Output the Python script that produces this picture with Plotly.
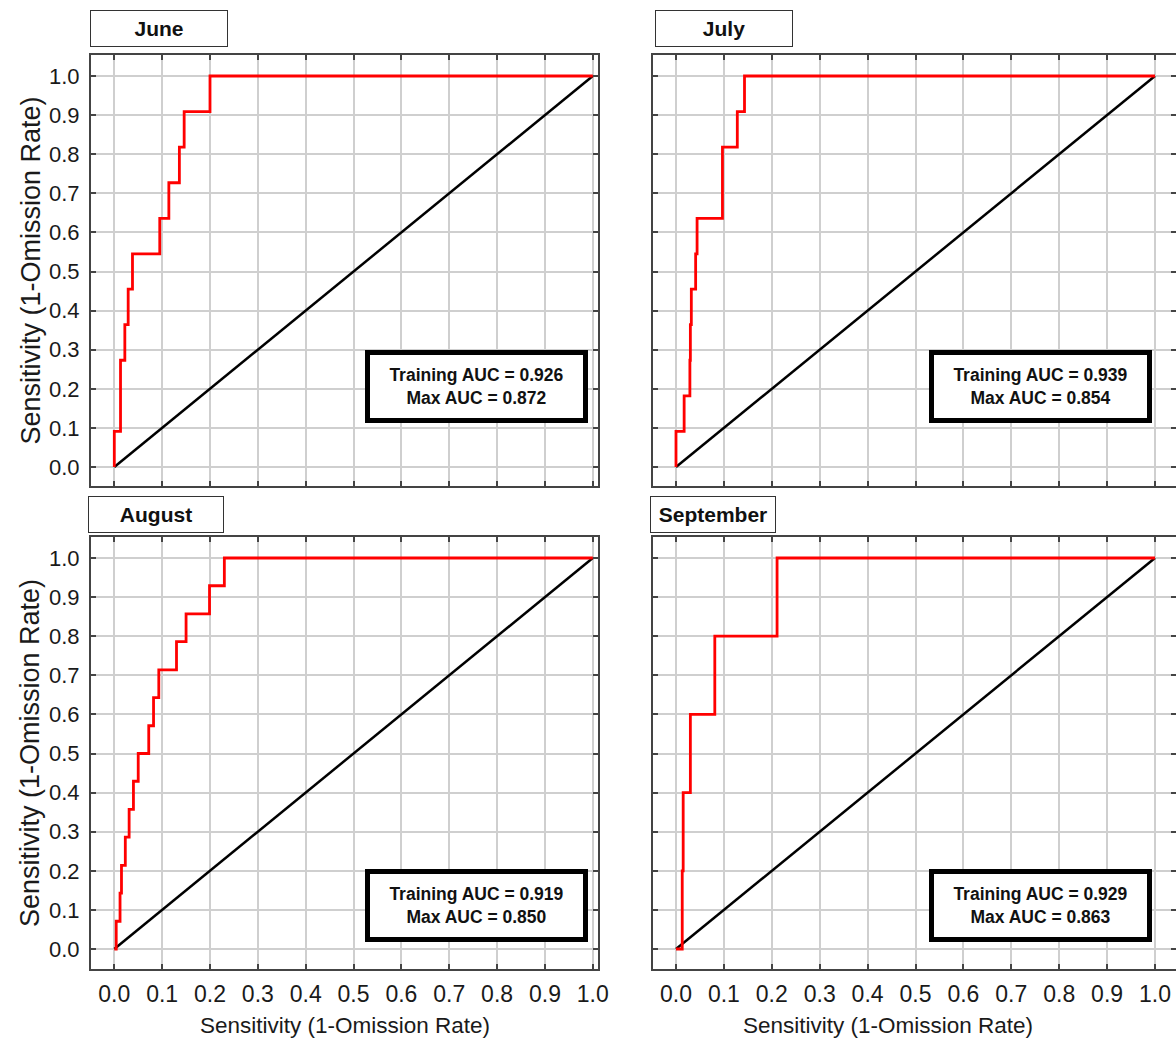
import plotly.graph_objects as go

W, H = 1176, 1040

months = ["June", "July", "August", "September"]

june_fpr = [0.0, 0.013, 0.022, 0.029, 0.038, 0.095, 0.114, 0.136, 0.146, 0.200, 1.0]
june_tpr = [0.0, 0.091, 0.273, 0.364, 0.455, 0.545, 0.636, 0.727, 0.818, 0.909, 1.0]

july_fpr = [0.0, 0.017, 0.029, 0.030, 0.032, 0.041, 0.044, 0.097, 0.128, 0.143, 1.0]
july_tpr = [0.0, 0.091, 0.182, 0.273, 0.364, 0.455, 0.545, 0.636, 0.818, 0.909, 1.0]

august_fpr = [0.0, 0.004, 0.012, 0.015, 0.023, 0.031, 0.040, 0.050, 0.072, 0.082,
              0.093, 0.130, 0.150, 0.199, 0.230, 1.0]
august_tpr = [0.0, 0.0, 0.071, 0.143, 0.214, 0.286, 0.357, 0.429, 0.500, 0.571,
              0.643, 0.714, 0.786, 0.857, 0.929, 1.0]

september_fpr = [0.0, 0.013, 0.015, 0.030, 0.081, 0.211, 1.0]
september_tpr = [0.0, 0.0, 0.2, 0.4, 0.6, 0.8, 1.0]

diag_x = [0.0, 1.0]
diag_y = [0.0, 1.0]

training_auc = [0.926, 0.939, 0.919, 0.929]
max_auc = [0.872, 0.854, 0.850, 0.863]

tick_vals = [0.0, 0.1, 0.2, 0.3, 0.4, 0.5, 0.6, 0.7, 0.8, 0.9, 1.0]
tick_text = ["0.0", "0.1", "0.2", "0.3", "0.4", "0.5", "0.6", "0.7", "0.8", "0.9", "1.0"]

axis_title = "Sensitivity (1-Omission Rate)"

curves = [(june_fpr, june_tpr), (july_fpr, july_tpr),
          (august_fpr, august_tpr), (september_fpr, september_tpr)]

FONT = "Liberation Sans, Arial, sans-serif"


def px_x(p):
    return p / W


def px_y(p):
    return 1 - p / H


fig = go.Figure()

for i, (fx, fy) in enumerate(curves):
    n = "" if i == 0 else str(i + 1)
    fig.add_trace(go.Scatter(x=diag_x, y=diag_y, mode="lines",
                             line=dict(color="black", width=2.5),
                             xaxis="x" + n, yaxis="y" + n, hoverinfo="skip"))
    fig.add_trace(go.Scatter(x=fx, y=fy, mode="lines", line_shape="vh",
                             line=dict(color="#ff0000", width=2.8),
                             xaxis="x" + n, yaxis="y" + n, hoverinfo="skip"))

common = dict(
    tickvals=tick_vals, ticktext=tick_text,
    showline=True, mirror="ticks", linecolor="#444444", linewidth=2,
    ticks="inside", ticklen=5, tickwidth=1.5, tickcolor="#444444",
    showgrid=True, gridcolor="#cfcfcf", gridwidth=1.5,
    zeroline=False, fixedrange=True, automargin=False,
)

left_dom = [px_x(91), px_x(598)]
right_dom = [px_x(653), 1.0]
left_rng = [(91 - 114.3) / 478.5, (598 - 114.3) / 478.5]
right_rng = [(653 - 676) / 479.0, (1176 - 676) / 479.0]
top_dom = [px_y(486), px_y(55)]
bot_dom = [px_y(969), px_y(537)]
top_rng = [(467 - 486) / 391.0, (467 - 55) / 391.0]
bot_rng = [(949 - 969) / 391.0, (949 - 537) / 391.0]

layout_axes = {}
specs = [
    ("", left_dom, left_rng, top_dom, top_rng, False, True),
    ("2", right_dom, right_rng, top_dom, top_rng, False, False),
    ("3", left_dom, left_rng, bot_dom, bot_rng, True, True),
    ("4", right_dom, right_rng, bot_dom, bot_rng, True, False),
]
for n, xd, xr, yd, yr, showx, showy in specs:
    layout_axes["xaxis" + n] = dict(common, domain=xd, range=xr, anchor="y" + n,
                                    showticklabels=showx, ticklabelstandoff=3,
                                    tickfont=dict(family=FONT, size=23, color="#1a1a1a"))
    layout_axes["yaxis" + n] = dict(common, domain=yd, range=yr, anchor="x" + n,
                                    showticklabels=showy, ticklabelstandoff=5,
                                    tickfont=dict(family=FONT, size=22, color="#1a1a1a"))

fig.update_layout(
    width=W, height=H, autosize=False,
    margin=dict(l=0, r=0, t=0, b=0, pad=0, autoexpand=False),
    paper_bgcolor="white", plot_bgcolor="white", showlegend=False,
    font=dict(family=FONT, color="#1a1a1a"),
    **layout_axes,
)

annotations = []

# Month title boxes
title_boxes = [
    (months[0], 159, 28.5, 136),
    (months[1], 724, 28.5, 136),
    (months[2], 156, 514.5, 134),
    (months[3], 713, 514.5, 124),
]
for text, cx, cy, w in title_boxes:
    annotations.append(dict(
        text="<b>" + text + "</b>", xref="paper", yref="paper",
        x=px_x(cx), y=px_y(cy), xanchor="center", yanchor="middle",
        showarrow=False, width=w, height=35, borderpad=0, borderwidth=1,
        bordercolor="#333333", bgcolor="white",
        font=dict(family=FONT, size=21, color="#111111")))

# AUC boxes (in data coordinates of each panel)
auc_pos = [(0.757, 0.206), (0.760, 0.206), (0.757, 0.110), (0.760, 0.110)]
for i, (ax, ay) in enumerate(auc_pos):
    n = "" if i == 0 else str(i + 1)
    annotations.append(dict(
        text="<b>Training AUC = %.3f<br>Max AUC = %.3f</b>" % (training_auc[i], max_auc[i]),
        xref="x" + n, yref="y" + n, x=ax, y=ay,
        xanchor="center", yanchor="middle", showarrow=False,
        width=209, height=59, borderpad=2, borderwidth=5,
        bordercolor="black", bgcolor="white",
        font=dict(family=FONT, size=17.5, color="#111111")))

# Axis titles
for cy in [(55 + 486) / 2, (537 + 969) / 2]:
    annotations.append(dict(
        text=axis_title, xref="paper", yref="paper", x=px_x(30), y=px_y(cy),
        xanchor="center", yanchor="middle", textangle=-90, showarrow=False,
        font=dict(family=FONT, size=27, color="#1a1a1a")))
for cx in [345, 888]:
    annotations.append(dict(
        text=axis_title, xref="paper", yref="paper", x=px_x(cx), y=px_y(1025),
        xanchor="center", yanchor="middle", showarrow=False,
        font=dict(family=FONT, size=22.5, color="#1a1a1a")))

fig.update_layout(annotations=annotations)

fig.write_html("out.html", config={"displayModeBar": False})
